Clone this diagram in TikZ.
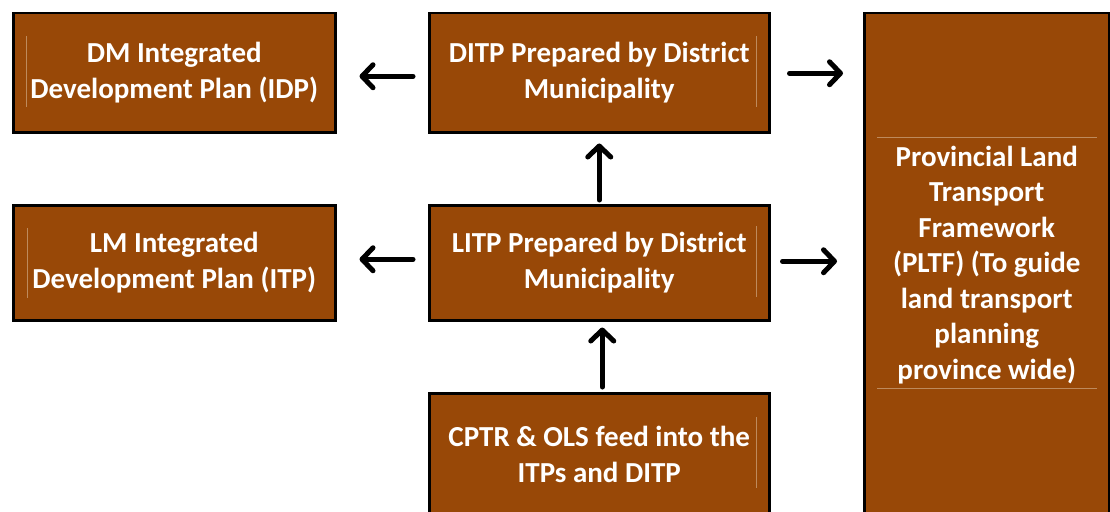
\documentclass[tikz,border=0pt]{standalone}
\usepackage{fontspec}
\setmainfont{Carlito}
\usetikzlibrary{arrows.meta,calc}
\definecolor{boxbrown}{HTML}{984807}
\definecolor{framelinecol}{HTML}{BE8A5C}
\tikzset{
  box/.style={draw=black, line width=2.5pt, fill=boxbrown, text=white,
    font=\bfseries\fontsize{29}{35.5}\selectfont, align=center,
    inner sep=0pt, anchor=north west},
  arr/.style={line width=5pt, line cap=round,
    -{Straight Barb[length=11pt, width=23pt, line cap=round, line join=round]}},
  frameline/.style={draw=framelinecol, line width=0.8pt}
}
\begin{document}
\begin{tikzpicture}[x=1pt, y=-1pt]
  \clip (0,0) rectangle (1110,511);
  \fill[white] (0,0) rectangle (1110,511);

  % boxes
  \node[box, minimum width=322pt, minimum height=119pt] (dm) at (12,12)
    {DM Integrated\\Development Plan (IDP)};
  \node[box, minimum width=340pt, minimum height=119pt] (ditp) at (428,12)
    {DITP Prepared by District\\Municipality};
  \node[box, minimum width=322pt, minimum height=115pt] (lm) at (12,204)
    {LM Integrated\\Development Plan (ITP)};
  \node[box, minimum width=340pt, minimum height=115pt] (litp) at (428,204)
    {LITP Prepared by District\\Municipality};
  \node[box, minimum width=340pt, minimum height=122pt] (cptr) at (428,392)
    {CPTR \& OLS feed into the\\ITPs and DITP};
  \node[box, minimum width=245pt, minimum height=503pt] (pltf) at (863,12)
    {Provincial Land\\Transport\\Framework\\(PLTF) (To guide\\land transport\\planning\\province wide)};

  % faint text-frame edges inside the boxes
  \draw[frameline] ([shift={(14,24)}]dm.north west) -- ([shift={(14,95)}]dm.north west);
  \draw[frameline] ([shift={(15,24)}]lm.north west) -- ([shift={(15,94)}]lm.north west);
  \draw[frameline] ([shift={(-14,24)}]ditp.north east) -- ([shift={(-14,95)}]ditp.north east);
  \draw[frameline] ([shift={(-14,22)}]litp.north east) -- ([shift={(-14,93)}]litp.north east);
  \draw[frameline] ([shift={(-14,25)}]cptr.north east) -- ([shift={(-14,96)}]cptr.north east);
  \draw[frameline] ([shift={(14,125)}]pltf.north west) -- ([shift={(-14,125)}]pltf.north east);
  \draw[frameline] ([shift={(14,376)}]pltf.north west) -- ([shift={(-14,376)}]pltf.north east);

  % connectors
  \draw[arr] ($(ditp.west)+(-15,3.5)$) -- ($(ditp.west -| dm.east)+(23,3.5)$);
  \draw[arr] ($(ditp.east)+(19,0.5)$) -- ($(ditp.east -| pltf.west)+(-20,0.5)$);
  \draw[arr] ($(litp.west)+(-15,-3.5)$) -- ($(litp.west -| lm.east)+(23,-3.5)$);
  \draw[arr] ($(litp.east)+(12,-1.5)$) -- ($(litp.east -| pltf.west)+(-26,-1.5)$);
  \draw[arr] ($(litp.north)+(0,-4)$) -- ($(ditp.south)+(0,10)$);
  \draw[arr] ($(cptr.north)+(3,-5)$) -- ($(litp.south)+(3,6)$);
\end{tikzpicture}
\end{document}
